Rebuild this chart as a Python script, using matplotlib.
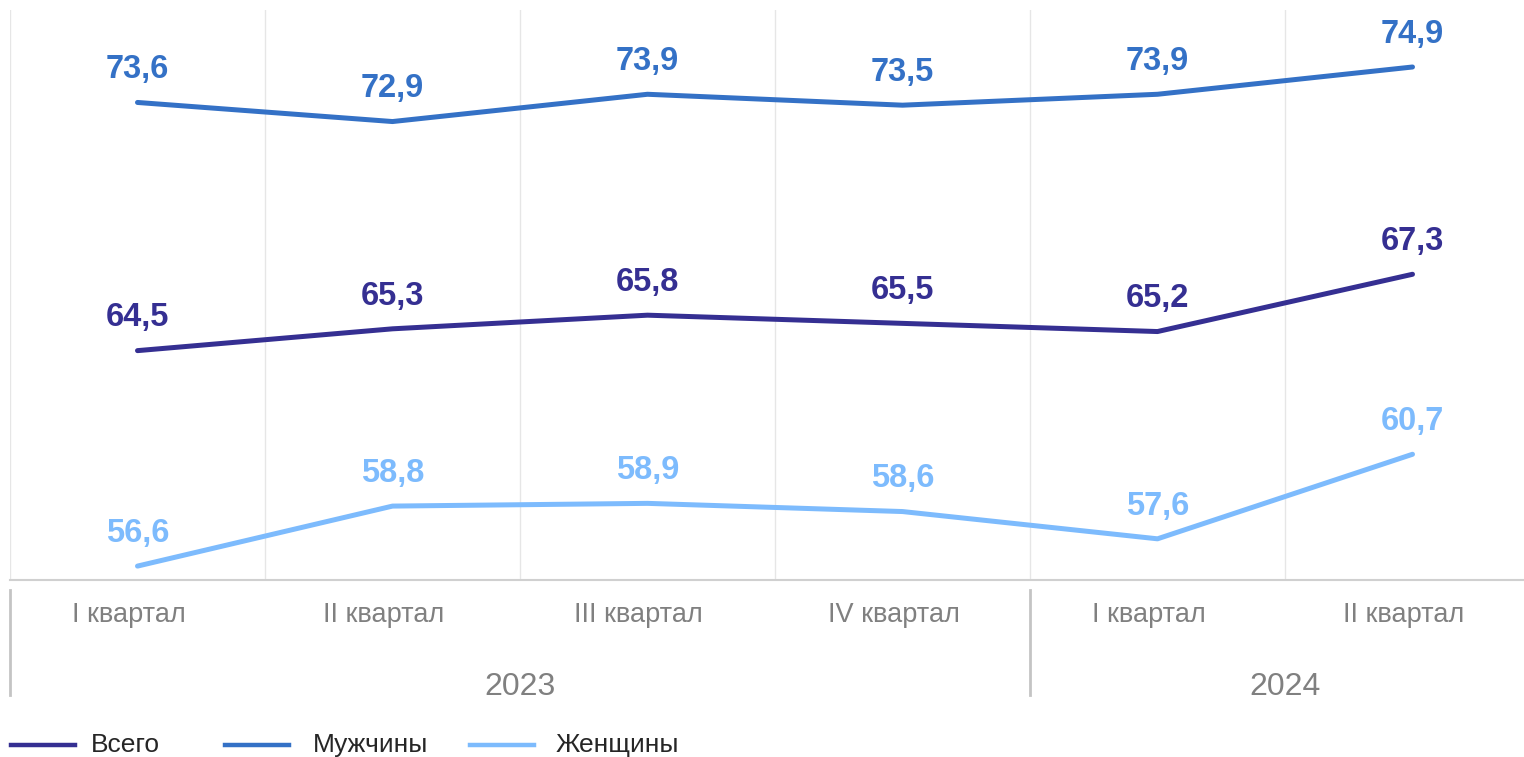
import matplotlib
matplotlib.use('Agg')
import matplotlib.pyplot as plt
from matplotlib.lines import Line2D

plt.rcParams['font.family'] = ['Liberation Sans', 'DejaVu Sans']

quarters = ['I квартал', 'II квартал', 'III квартал', 'IV квартал', 'I квартал', 'II квартал']
years = ['2023', '2024']
year_spans = [(0, 3), (4, 5)]  # first and last quarter index per year

total = [64.5, 65.3, 65.8, 65.5, 65.2, 67.3]
men = [73.6, 72.9, 73.9, 73.5, 73.9, 74.9]
women = [56.6, 58.8, 58.9, 58.6, 57.6, 60.7]

series = [
    ('Всего', total, '#352f92'),
    ('Мужчины', men, '#3471c6'),
    ('Женщины', women, '#7dbbfd'),
]

W, H = 1524, 757
fig = plt.figure(figsize=(W / 100, H / 100), dpi=100)
ax = fig.add_axes([10 / W, 1 - 580 / H, 1 - 10 / W, 570 / H])

x = list(range(len(quarters)))
ax.set_xlim(-0.5, -0.5 + (W - 10) / 255)
ax.set_ylim(56.09, 76.99)

# vertical gridlines between categories
for b in range(len(quarters)):
    ax.axvline(b - 0.5, color='#e6e6e6', lw=1, zorder=0)

for name, vals, col in series:
    ax.plot(x, vals, color=col, lw=3.6, solid_capstyle='round', solid_joinstyle='round')
    for xi, v in zip(x, vals):
        ax.annotate(f'{v:.1f}'.replace('.', ','), (xi, v), xytext=(0, 23.5),
                    textcoords='offset points', ha='center', va='center',
                    fontsize=23.5, fontweight='bold', color=col)

for s in ['top', 'right', 'left']:
    ax.spines[s].set_visible(False)
ax.spines['bottom'].set_color('#d0d0d0')
ax.spines['bottom'].set_linewidth(1.5)
ax.set_xticks([])
ax.set_yticks([])

# two-level category axis
trans = ax.get_xaxis_transform()
for xi, q in zip(x, quarters):
    ax.text(xi - 0.035, -(615 - 580) / 570, q, transform=trans, ha='center', va='center',
            fontsize=19.5, color='#808080')
for yr, (a, b) in zip(years, year_spans):
    ax.text((a + b) / 2, -(687 - 580) / 570, yr, transform=trans, ha='center', va='center',
            fontsize=23, color='#808080')
for a, _ in year_spans:
    ax.plot([a - 0.5, a - 0.5], [-(590 - 580) / 570, -(695 - 580) / 570], transform=trans,
            color='#c4c4c4', lw=2, clip_on=False)

# legend
leg_y = 1 - 745 / H
for (name, vals, col), x0, tx in zip(series, [11, 225, 470], [91, 313, 556]):
    fig.add_artist(Line2D([x0 / W, (x0 + 64) / W], [leg_y, leg_y], color=col, lw=3.2))
    fig.text(tx / W, leg_y, name, ha='left', va='center', fontsize=19, color='#262626')

fig.savefig('out.png', dpi=100)
